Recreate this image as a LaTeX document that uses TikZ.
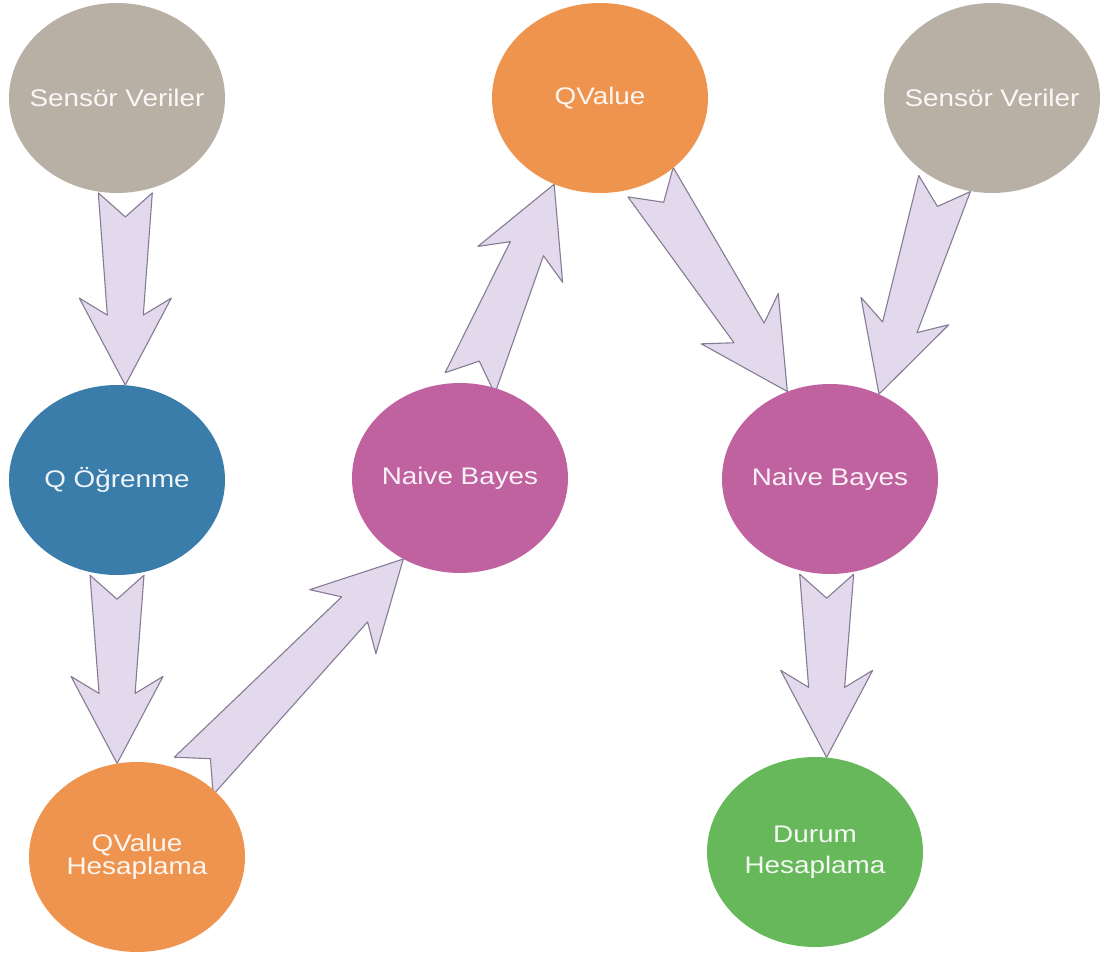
\documentclass[tikz,border=0pt]{standalone}
\usepackage{fontspec}
\newfontfamily\bubblefont[FakeStretch=1.16]{Liberation Sans}
\usetikzlibrary{calc,shapes.geometric,backgrounds}
\definecolor{sensor}{HTML}{B9B0A5}
\definecolor{qorange}{HTML}{EE944F}
\definecolor{qblue}{HTML}{3A7DAA}
\definecolor{bayes}{HTML}{C0629F}
\definecolor{durum}{HTML}{67B85B}
\definecolor{arrowfill}{HTML}{E3D9EC}
\definecolor{arrowline}{HTML}{857C93}
\tikzset{bubble/.style={ellipse,minimum width=216pt,minimum height=190pt,inner sep=0pt},
  bubbletext/.style={text=white,text opacity=.92,align=center,font=\bubblefont\fontsize{24}{28}\selectfont},
  fatarrow/.style={draw=arrowline,fill=arrowfill,line width=1.1pt,line join=round}}
% notched block arrow from #1 (tail) to #2 (tip)
\newcommand{\fatarrow}[2]{%
  \draw[fatarrow] ($(#1)!27pt!90:(#2)$) -- ($(#1)!24pt!(#2)$) -- ($(#1)!27pt!-90:(#2)$)
    -- ($(#2)!70pt!(#1)!18pt!90:(#1)$) -- ($(#2)!87pt!(#1)!46pt!90:(#1)$) -- (#2)
    -- ($(#2)!87pt!(#1)!46pt!-90:(#1)$) -- ($(#2)!70pt!(#1)!18pt!-90:(#1)$) -- cycle;}
\begin{document}
\begin{tikzpicture}[x=1pt,y=-1pt]
\useasboundingbox (0,0) rectangle (1101,956);
% top row
\node[bubble,fill=sensor,label={[bubbletext]center:Sensör Veriler}] (s1) at (117,98) {};
\node[bubble,fill=qorange,label={[bubbletext]center:QValue}] (qv) at (600,98) {};
\node[bubble,fill=sensor,label={[bubbletext]center:Sensör Veriler}] (s2) at (992,98) {};
% middle row
\node[bubble,fill=qblue,label={[bubbletext]center:Q Öğrenme}] (qo) at (117,480) {};
\node[bubble,fill=bayes,label={[bubbletext]center:Naive Bayes}] (nb1) at (460,478) {};
\node[bubble,fill=bayes,label={[bubbletext]center:Naive Bayes}] (nb2) at (830,479) {};
% bottom row
\node[bubble,fill=qorange,label={[bubbletext]center:QValue\\[-5pt]Hesaplama}] (qvh) at (137,857) {};
\node[bubble,fill=durum,label={[bubbletext]center:Durum\\[3pt]Hesaplama}] (dh) at (815,852) {};
\begin{scope}[on background layer]
\fatarrow{s1.-85}{qo.85}
\fatarrow{qo.-90}{qvh.102}
\fatarrow{qvh.55}{nb1.-125}
\fatarrow{nb1.84}{qv.-118}
\fatarrow{qv.-59}{nb2.116}
\fatarrow{s2.-119}{nb2.60}
\fatarrow{nb2.-92}{dh.83}
\end{scope}
\end{tikzpicture}
\end{document}
